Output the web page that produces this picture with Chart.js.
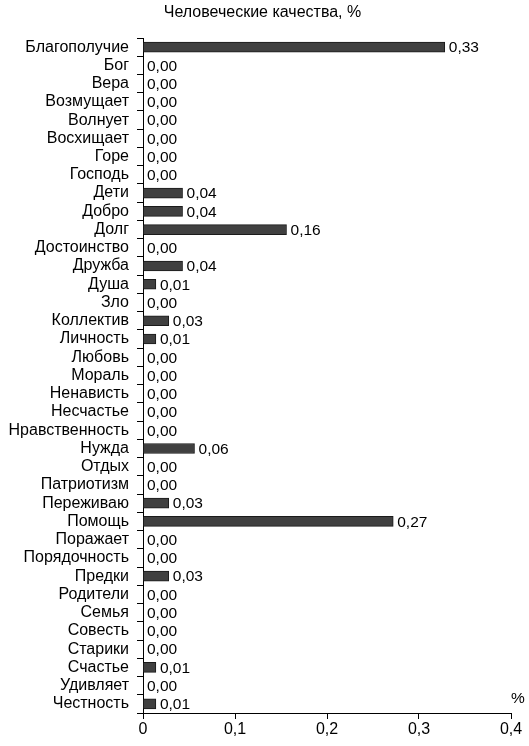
<!DOCTYPE html>
<html>
<head>
<meta charset="utf-8">
<script src="https://cdn.jsdelivr.net/npm/chart.js@4"></script>
<style>
    html, body { margin: 0; padding: 0; background: #ffffff; }
    #wrap { width: 529px; height: 746px; }
</style>
</head>
<body>
<div id="wrap"><canvas id="qualityChart" width="529" height="746"></canvas></div>
<script>
const categories = [
    "Благополучие", "Бог", "Вера", "Возмущает", "Волнует", "Восхищает", "Горе", "Господь",
    "Дети", "Добро", "Долг", "Достоинство", "Дружба", "Душа", "Зло", "Коллектив",
    "Личность", "Любовь", "Мораль", "Ненависть", "Несчастье", "Нравственность", "Нужда",
    "Отдых", "Патриотизм", "Переживаю", "Помощь", "Поражает", "Порядочность", "Предки",
    "Родители", "Семья", "Совесть", "Старики", "Счастье", "Удивляет", "Честность"
];
const percentValues = [
    0.328, 0, 0, 0, 0, 0, 0, 0,
    0.043, 0.043, 0.156, 0, 0.043, 0.014, 0, 0.028,
    0.014, 0, 0, 0, 0, 0, 0.056,
    0, 0, 0.028, 0.272, 0, 0, 0.028,
    0, 0, 0, 0, 0.014, 0, 0.014
];
const xTicks = [0, 0.1, 0.2, 0.3, 0.4];
const chartTitle = "Человеческие качества, %";
const axisUnit = "%";

const FONT = "'Liberation Sans', Arial, sans-serif";
const fmt = v => v.toFixed(2).replace(".", ",");

// title, value labels at the end of each bar and the "%" unit near the x axis
const barLabels = {
    id: "barLabels",
    afterDatasetsDraw(chart) {
        const ctx = chart.ctx;
        const meta = chart.getDatasetMeta(0);
        const area = chart.chartArea;
        ctx.save();
        ctx.fillStyle = "#000";
        ctx.textBaseline = "middle";

        ctx.font = "16px " + FONT;
        ctx.textAlign = "center";
        ctx.fillText(chartTitle, chart.width / 2 - 2, 13);

        ctx.font = "15.5px " + FONT;
        ctx.textAlign = "left";
        meta.data.forEach((bar, i) => {
            ctx.fillText(fmt(percentValues[i]), bar.x + 4, bar.y + 1);
        });

        ctx.textAlign = "center";
        ctx.fillText(axisUnit, area.right + 7, area.bottom - 14);
        ctx.restore();
    }
};

const chart = new Chart(document.getElementById("qualityChart"), {
    type: "bar",
    data: {
        labels: categories,
        datasets: [{
            data: percentValues,
            backgroundColor: "#404040",
            borderColor: "#1a1a1a",
            borderWidth: 1,
            barThickness: 10
        }]
    },
    options: {
        indexAxis: "y",
        responsive: false,
        animation: false,
        layout: {padding: {left: 0, right: 18, top: 38, bottom: 0}},
        plugins: {
            legend: {display: false},
            tooltip: {enabled: false},
            title: {display: false}
        },
        scales: {
            x: {
                min: 0,
                max: 0.4,
                afterBuildTicks: axis => { axis.ticks = xTicks.map(v => ({value: v})); },
                afterFit: axis => { axis.height = 33; },
                grid: {drawOnChartArea: false, drawTicks: true, tickLength: 6, color: "#000"},
                border: {display: true, color: "#000", width: 1},
                ticks: {
                    color: "#000",
                    padding: 1,
                    font: {family: FONT, size: 16},
                    callback: v => v === 0 ? "0" : String(Math.round(v * 10) / 10).replace(".", ",")
                }
            },
            y: {
                afterFit: axis => { axis.width = 143; },
                grid: {drawOnChartArea: false, drawTicks: true, tickLength: 6, offset: true, color: "#000"},
                border: {display: true, color: "#000", width: 1},
                ticks: {
                    color: "#000",
                    padding: 8,
                    autoSkip: false,
                    font: {family: FONT, size: 16}
                }
            }
        }
    },
    plugins: [barLabels]
});
</script>
</body>
</html>
